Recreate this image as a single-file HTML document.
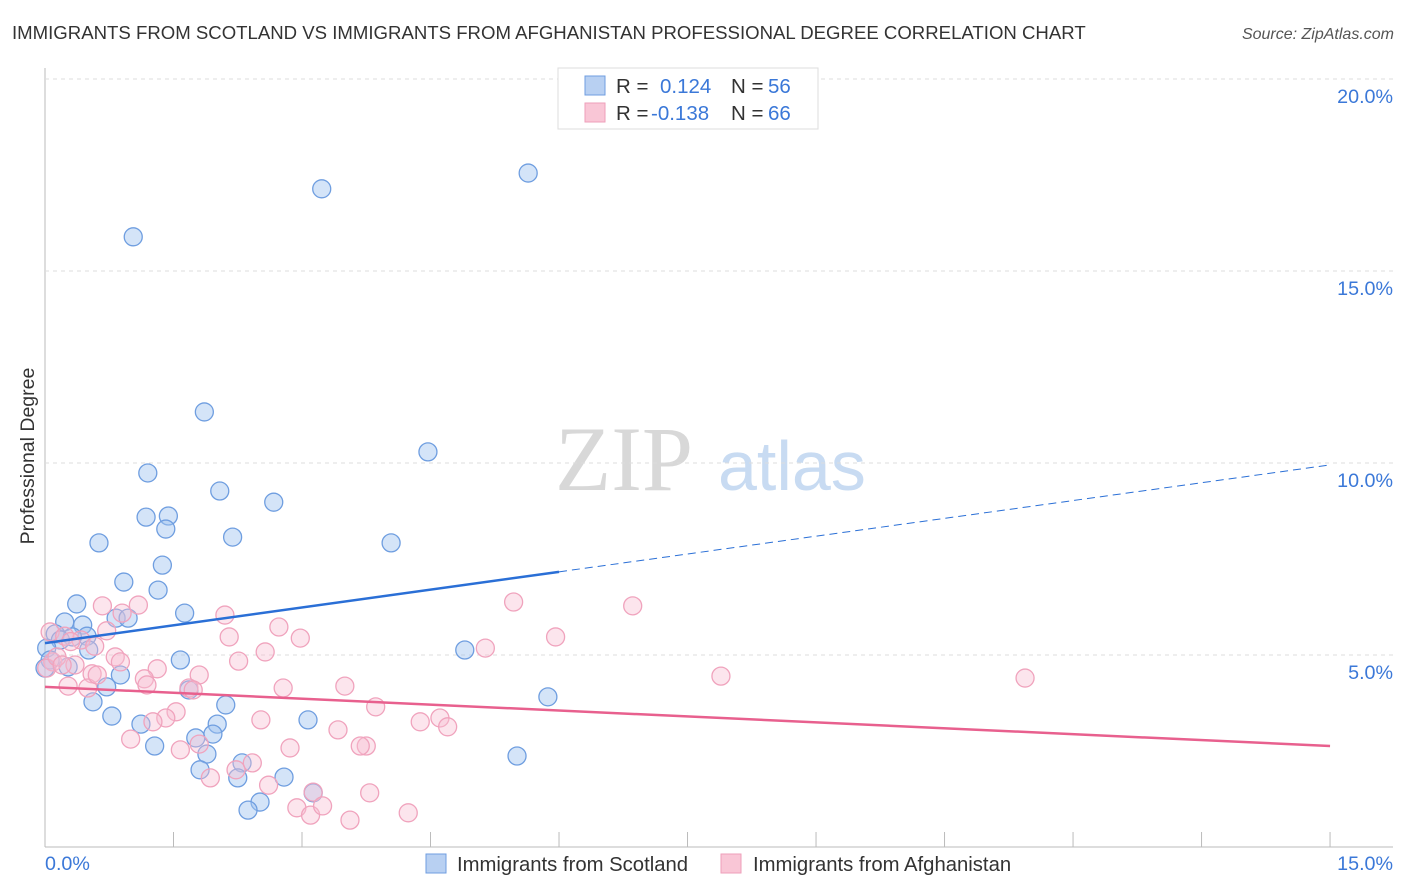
<!DOCTYPE html>
<html><head><meta charset="utf-8"><style>
body{margin:0;background:#fff;font-family:"Liberation Sans",sans-serif;}
svg{display:block}
</style></head><body>
<svg id="chart" width="1406" height="892">
<text x="12" y="39" font-size="18.6" fill="#333">IMMIGRANTS FROM SCOTLAND VS IMMIGRANTS FROM AFGHANISTAN PROFESSIONAL DEGREE CORRELATION CHART</text>
<text x="1394" y="39" font-size="16" fill="#555" font-style="italic" text-anchor="end">Source: ZipAtlas.com</text>
<text x="34" y="456" font-size="19.5" fill="#333" text-anchor="middle" transform="rotate(-90 34 456)">Professional Degree</text>
<g><text x="555" y="490" font-size="92" fill="#d8d8d8" font-family="Liberation Serif,serif">ZIP</text><text x="718" y="490" font-size="70" fill="#c8dbf2">atlas</text></g>
<g id="grid"></g><g id="marks"></g>
<g>
<rect x="558" y="68" width="260" height="61" fill="#fff" stroke="#ddd"/>
<rect x="585" y="76" width="20" height="19" fill="#b8d0f2" stroke="#6f9ee0"/>
<rect x="585" y="103" width="20" height="19" fill="#f9c6d6" stroke="#ee9fba"/>
<text x="616" y="93" font-size="20.5" fill="#333">R = </text><text x="660" y="93" font-size="20.5" fill="#3b78d8">0.124</text>
<text x="731" y="93" font-size="20.5" fill="#333">N = </text><text x="768" y="93" font-size="20.5" fill="#3b78d8">56</text>
<text x="616" y="120" font-size="20.5" fill="#333">R = </text><text x="651" y="120" font-size="20.5" fill="#3b78d8">-0.138</text>
<text x="731" y="120" font-size="20.5" fill="#333">N = </text><text x="768" y="120" font-size="20.5" fill="#3b78d8">66</text>
</g>
<g>
<rect x="426" y="854" width="20" height="19" fill="#b8d0f2" stroke="#6f9ee0"/>
<text x="457" y="871" font-size="20.3" fill="#333">Immigrants from Scotland</text>
<rect x="721" y="854" width="20" height="19" fill="#f9c6d6" stroke="#ee9fba"/>
<text x="753" y="871" font-size="20.3" fill="#333">Immigrants from Afghanistan</text>
</g>
</svg>
<script>
const yTicks=[5,10,15,20];
const xTickLabels=["0.0%","15.0%"];
const blueX=[1.03,3.23,5.64,1.86,1.20,4.47,2.04,2.67,1.18,1.44,1.41,2.19,0.63,4.04,1.37,0.92,1.32,0.37,1.63,0.23,0.83,0.97,0.44,0.12,0.49,0.32,0.18,0.51,0.02,0.06,0.27,1.58,4.90,0.88,0.72,1.68,5.87,0.56,2.11,0.78,2.01,1.12,3.07,1.76,1.96,1.28,1.89,5.51,2.30,1.81,2.25,2.79,3.13,2.51,2.37,0];
const blueY=[15.89,17.14,17.55,11.33,9.74,10.29,9.27,8.98,8.59,8.62,8.28,8.07,7.92,7.92,7.34,6.90,6.69,6.33,6.09,5.86,5.96,5.96,5.78,5.55,5.49,5.47,5.39,5.13,5.18,4.87,4.69,4.87,5.13,4.48,4.17,4.09,3.91,3.78,3.70,3.41,3.20,3.20,3.31,2.84,2.94,2.63,2.42,2.37,2.19,2.01,1.80,1.82,1.41,1.17,0.96,4.66];
const pinkX=[0.67,1.09,0.90,2.10,6.86,5.47,5.96,2.73,0.72,2.98,2.15,0.42,0.06,0.23,0.58,5.14,2.57,0.82,2.26,1.31,0.55,1.80,0.09,0.02,0.35,1.16,1.19,1.68,1.73,2.78,3.50,0.27,0.50,7.89,11.44,3.86,1.53,1.41,1.26,2.52,4.38,4.61,4.70,3.42,1.00,1.80,1.58,2.86,3.75,3.68,2.23,1.93,2.61,2.42,3.13,3.79,2.94,3.10,3.24,3.56,4.24,0.14,0.20,0.61,0.88,0.30];
const pinkY=[6.28,6.30,6.09,6.04,6.28,6.38,5.47,5.73,5.63,5.44,5.47,5.39,5.60,5.49,5.23,5.18,5.08,4.95,4.84,4.64,4.51,4.48,4.82,4.66,4.74,4.38,4.22,4.14,4.09,4.14,4.19,4.19,4.14,4.45,4.40,3.65,3.52,3.36,3.26,3.31,3.26,3.36,3.13,3.05,2.81,2.68,2.53,2.58,2.63,2.63,2.01,1.80,1.61,2.19,1.43,1.41,1.02,0.83,1.07,0.70,0.89,4.95,4.74,4.48,4.82,5.35];
const blueTrend=[5.31,9.95];
const pinkTrend=[4.17,2.63];
const blueSolidEnd=6;
const NS="http://www.w3.org/2000/svg";
const X=v=>45+v*85.67, Y=v=>847-v*38.4;
function mk(t,a,p){const e=document.createElementNS(NS,t);for(const k in a)e.setAttribute(k,a[k]);p.appendChild(e);return e;}
const grid=document.getElementById('grid'), marks=document.getElementById('marks');
mk('line',{x1:45,y1:68,x2:45,y2:847,stroke:'#bbb'},grid);
mk('line',{x1:45,y1:847,x2:1393,y2:847,stroke:'#bbb'},grid);
for(let i=0;i<=10;i++){const l=mk('line',{x1:X(i*1.5),y1:832,x2:X(i*1.5),y2:847,stroke:'#bbb'},grid);

}
yTicks.forEach(t=>{const l=mk('line',{x1:45,y1:Y(t),x2:1393,y2:Y(t),stroke:'#ddd','stroke-dasharray':'4,4'},grid);


const tx=mk('text',{x:1393,y:Y(t)+24,'font-size':19.7,fill:'#3b78d8','text-anchor':'end'},grid);tx.textContent=t.toFixed(1)+'%';

});
const xl0=mk('text',{x:45,y:870,'font-size':19.7,fill:'#3b78d8'},grid);xl0.textContent=xTickLabels[0];


const xl1=mk('text',{x:1393,y:870,'font-size':19.7,fill:'#3b78d8','text-anchor':'end'},grid);xl1.textContent=xTickLabels[1];


blueX.forEach((v,i)=>{const c=mk('circle',{cx:X(v),cy:Y(blueY[i]),r:9,fill:'rgba(160,195,240,0.45)',stroke:'#6f9ee0','stroke-width':1.3},marks);

});
pinkX.forEach((v,i)=>{const c=mk('circle',{cx:X(v),cy:Y(pinkY[i]),r:9,fill:'rgba(248,190,210,0.4)',stroke:'#f0a3bd','stroke-width':1.3},marks);

});
const bAt=x=>blueTrend[0]+(blueTrend[1]-blueTrend[0])*x/15;
const b1=mk('line',{x1:X(0),y1:Y(bAt(0)),x2:X(blueSolidEnd),y2:Y(bAt(blueSolidEnd)),stroke:'#2a6fd6','stroke-width':2.5},marks);


const b2=mk('line',{x1:X(blueSolidEnd),y1:Y(bAt(blueSolidEnd)),x2:X(15),y2:Y(bAt(15)),stroke:'#2a6fd6','stroke-width':1,'stroke-dasharray':'8,5'},marks);


const p1=mk('line',{x1:X(0),y1:Y(pinkTrend[0]),x2:X(15),y2:Y(pinkTrend[1]),stroke:'#e8608e','stroke-width':2.5},marks);


</script>
</body></html>
